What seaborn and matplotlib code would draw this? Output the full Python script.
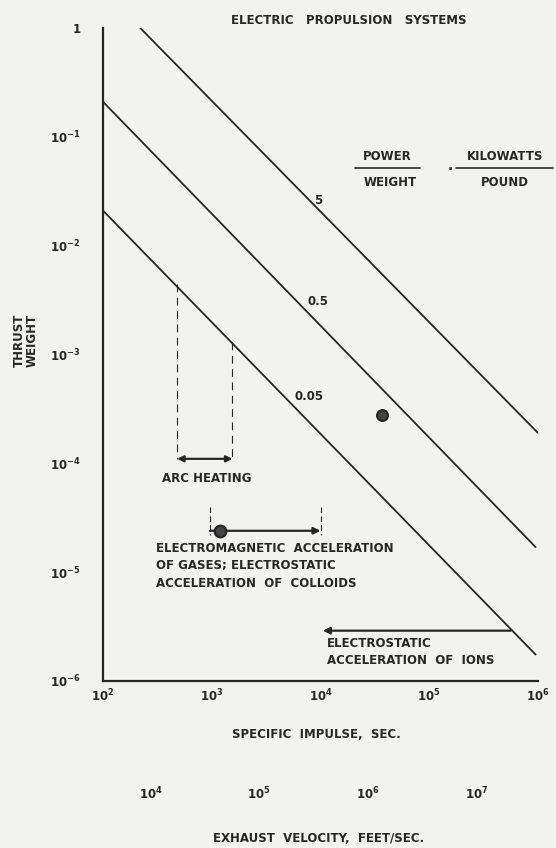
import pandas as pd
import seaborn as sns
import matplotlib.pyplot as plt
from matplotlib.lines import Line2D

# power/weight lines, kilowatts per pound (end points)
pw_labels = ["5", "0.5", "0.05"]
pw_isp = [[220, 1.0e6], [100, 9.5e5], [100, 9.5e5]]
pw_tw = [[1.0, 1.9e-4], [0.21, 1.7e-5], [0.021, 1.75e-6]]
pw_label_xy = [(8.7e3, 2.6e-2), (7.6e3, 3.1e-3), (5.8e3, 4.1e-4)]

# arc heating range
arc_isp = [480, 1550]
arc_top_tw = [4.4e-3, 1.3e-3]
arc_tw = 1.1e-4

# electromagnetic acceleration of gases / colloids range
em_isp = [960, 1.0e4]
em_tw = 2.4e-5
em_tick_tw = [4.0e-5, 2.2e-5]
em_point_isp = [1180]
em_point_tw = [2.4e-5]

# electrostatic acceleration of ions (arrow points left)
ion_isp = [5.6e5, 1.05e4]
ion_tw = 2.9e-6

# lone circled point
pt_isp = [3.7e4]
pt_tw = [2.8e-4]

isp_ticks = [1e2, 1e3, 1e4, 1e5, 1e6]
isp_ticklabels = ["$10^2$", "$10^3$", "$10^4$", "$10^5$", "$10^6$"]
tw_ticks = [1e-6, 1e-5, 1e-4, 1e-3, 1e-2, 1e-1, 1]
tw_ticklabels = ["$10^{-6}$", "$10^{-5}$", "$10^{-4}$", "$10^{-3}$",
                 "$10^{-2}$", "$10^{-1}$", "1"]
vel_ticks = [1e4, 1e5, 1e6, 1e7]
vel_ticklabels = ["$10^4$", "$10^5$", "$10^6$", "$10^7$"]
vel_per_isp = 36.6  # as drawn on the second scale

ink = "#262626"
paper = "#f2f2f0"
fs = 8.5

sns.set_style("white")
plt.rcParams["font.family"] = ["DejaVu Sans"]
plt.rcParams["font.weight"] = "bold"
plt.rcParams["mathtext.default"] = "bf"
plt.rcParams["text.color"] = ink

rows = []
for lab, xs, ys in zip(pw_labels, pw_isp, pw_tw):
    for x, y in zip(xs, ys):
        rows.append({"pw": lab, "isp": x, "tw": y})
lines = pd.DataFrame(rows)

fig = plt.figure(figsize=(5.56, 8.48), dpi=100, facecolor=paper)
W, H = 556, 848
ax = fig.add_axes([103 / W, 1 - 681 / H, 435 / W, 653 / H])
ax.set_facecolor(paper)

sns.lineplot(data=lines, x="isp", y="tw", units="pw", estimator=None,
             color=ink, linewidth=1.3, ax=ax, legend=False)
ax.set(xscale="log", yscale="log", xlim=(1e2, 1e6), ylim=(1e-6, 1))

for lab, (x, y) in zip(pw_labels, pw_label_xy):
    ax.text(x, y, lab, fontsize=fs, ha="left", va="center", color=ink)

# arc heating
for x, top in zip(arc_isp, arc_top_tw):
    ax.plot([x, x], [top, arc_tw], color=ink, lw=0.8, ls=(0, (7, 5)))
ax.annotate("", xy=(arc_isp[1], arc_tw), xytext=(arc_isp[0], arc_tw),
            arrowprops=dict(arrowstyle="<|-|>", color=ink, lw=1.6,
                            mutation_scale=9, shrinkA=0, shrinkB=0))
ax.text(900, 7.3e-5, "ARC HEATING", fontsize=fs, ha="center", va="center")

# electromagnetic
for x in em_isp:
    ax.plot([x, x], em_tick_tw, color=ink, lw=0.8, ls=(0, (5, 3)))
ax.annotate("", xy=(em_isp[1], em_tw), xytext=(em_isp[0], em_tw),
            arrowprops=dict(arrowstyle="-|>", color=ink, lw=1.6,
                            mutation_scale=10, shrinkA=0, shrinkB=0))
sns.scatterplot(x=em_point_isp, y=em_point_tw, ax=ax, s=70, color="#444444",
                edgecolor=ink, linewidth=1.6, zorder=5)
ax.text(306, 1.14e-5,
        "ELECTROMAGNETIC  ACCELERATION\nOF GASES; ELECTROSTATIC\nACCELERATION  OF  COLLOIDS",
        fontsize=fs, ha="left", va="center", linespacing=1.45)

# ions
ax.annotate("", xy=(ion_isp[1], ion_tw), xytext=(ion_isp[0], ion_tw),
            arrowprops=dict(arrowstyle="-|>", color=ink, lw=1.6,
                            mutation_scale=10, shrinkA=0, shrinkB=0))
ax.text(1.15e4, 1.85e-6, "ELECTROSTATIC\nACCELERATION  OF  IONS",
        fontsize=fs, ha="left", va="center", linespacing=1.45)

sns.scatterplot(x=pt_isp, y=pt_tw, ax=ax, s=60, color="#444444",
                edgecolor=ink, linewidth=1.6, zorder=5)

# axes
sns.despine(ax=ax)
for side in ["left", "bottom"]:
    ax.spines[side].set_color(ink)
    ax.spines[side].set_linewidth(1.6)
ax.set_xticks(isp_ticks, isp_ticklabels)
ax.set_yticks(tw_ticks, tw_ticklabels)
ax.minorticks_off()
ax.tick_params(axis="x", length=0, pad=5, labelsize=fs, colors=ink)
ax.tick_params(axis="y", length=0, pad=16, labelsize=fs, colors=ink)
ax.set_xlabel("")
ax.set_ylabel("")

sec = ax.secondary_xaxis(-0.16, functions=(lambda x: x * vel_per_isp,
                                           lambda v: v / vel_per_isp))
sec.set_xticks(vel_ticks, vel_ticklabels)
sec.minorticks_off()
sec.tick_params(length=0, pad=0, labelsize=fs, colors=ink)
sec.spines["bottom"].set_visible(False)

# titles and labels in figure space
fig.text(349 / W, 1 - 20 / H, "ELECTRIC   PROPULSION   SYSTEMS",
         fontsize=fs, ha="center", va="center")
fig.text(316 / W, 1 - 735 / H, "SPECIFIC  IMPULSE,  SEC.",
         fontsize=fs, ha="center", va="center")
fig.text(319 / W, 1 - 838 / H, "EXHAUST  VELOCITY,  FEET/SEC.",
         fontsize=fs, ha="center", va="center")
fig.text(26 / W, 1 - 340 / H, "THRUST\nWEIGHT", fontsize=fs, rotation=90,
         ha="center", va="center", linespacing=1.0)

# power / weight key
fig.text(387 / W, 1 - 157 / H, "POWER", fontsize=fs, ha="center", va="center")
fig.text(390 / W, 1 - 182 / H, "WEIGHT", fontsize=fs, ha="center", va="center")
fig.text(450 / W, 1 - 166 / H, ".", fontsize=10, ha="center", va="center")
fig.text(505 / W, 1 - 157 / H, "KILOWATTS", fontsize=fs, ha="center", va="center")
fig.text(505 / W, 1 - 182 / H, "POUND", fontsize=fs, ha="center", va="center")
for x0, x1 in [(355, 420), (456, 553)]:
    fig.add_artist(Line2D([x0 / W, x1 / W], [1 - 168 / H, 1 - 168 / H],
                          color=ink, lw=1.2))

fig.savefig("out.png", dpi=100, facecolor=paper)
